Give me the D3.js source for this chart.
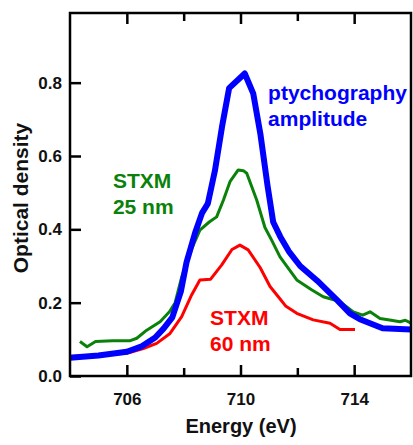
<!DOCTYPE html>
<html>
<head>
<meta charset="utf-8">
<script src="https://cdn.jsdelivr.net/npm/d3@7"></script>
<style>
  html, body { margin: 0; padding: 0; background: #fff; overflow: hidden; }
  svg { display: block; }
  svg text { font-family: "Liberation Sans", Arial, sans-serif; font-weight: bold; }
</style>
</head>
<body>
<div id="chart"></div>
<script>
// Energy (eV) / optical density
var ptychoEnergy = [704.0, 705.0, 706.0, 706.5, 707.0, 707.3, 707.6, 707.9, 708.1, 708.4, 708.65, 708.85, 709.1, 709.35, 709.6, 710.15, 710.45, 710.7, 710.95, 711.15, 711.4, 711.7, 712.1, 712.7, 713.4, 713.85, 714.2, 715.0, 716.0];
var ptychoOD     = [0.050, 0.056, 0.066, 0.080, 0.105, 0.130, 0.160, 0.230, 0.310, 0.390, 0.445, 0.470, 0.560, 0.680, 0.785, 0.825, 0.770, 0.660, 0.520, 0.420, 0.380, 0.340, 0.300, 0.260, 0.207, 0.171, 0.155, 0.130, 0.127];

var stxm25Energy = [704.35, 704.6, 704.9, 705.5, 706.1, 706.35, 706.7, 707.17, 707.5, 707.7, 707.93, 708.3, 708.57, 708.9, 709.16, 709.4, 709.63, 709.92, 710.1, 710.22, 710.57, 710.86, 711.1, 711.39, 711.98, 712.5, 712.91, 713.5, 713.97, 714.3, 714.56, 714.91, 715.3, 715.61, 715.8, 716.0];
var stxm25OD     = [0.094, 0.080, 0.094, 0.096, 0.096, 0.103, 0.125, 0.148, 0.175, 0.200, 0.270, 0.350, 0.398, 0.420, 0.434, 0.480, 0.530, 0.562, 0.560, 0.553, 0.480, 0.405, 0.370, 0.325, 0.262, 0.235, 0.216, 0.203, 0.175, 0.166, 0.175, 0.157, 0.152, 0.148, 0.152, 0.144];

var stxm60Energy = [704.0, 705.0, 706.0, 706.58, 707.05, 707.52, 707.93, 708.28, 708.57, 708.95, 709.34, 709.7, 709.98, 710.27, 710.69, 711.04, 711.33, 711.6, 711.98, 712.56, 713.15, 713.5, 714.03];
var stxm60OD     = [0.053, 0.057, 0.062, 0.075, 0.089, 0.116, 0.162, 0.221, 0.262, 0.264, 0.303, 0.345, 0.357, 0.344, 0.296, 0.244, 0.216, 0.190, 0.171, 0.153, 0.144, 0.127, 0.127];

var xMajorTicks = [706, 710, 714];
var xMinorTicks = [708, 712];
var yTicks = [0.0, 0.2, 0.4, 0.6, 0.8];

var width = 413, height = 445;
var margin = { top: 13, right: 2, bottom: 69, left: 70 };
var innerWidth = width - margin.left - margin.right;
var innerHeight = height - margin.top - margin.bottom;

var x = d3.scaleLinear().domain([704, 716]).range([0, innerWidth]);
var y = d3.scaleLinear().domain([0, 0.99]).range([innerHeight, 0]);

var svg = d3.select("#chart")
  .append("svg")
  .attr("width", width)
  .attr("height", height)
  .append("g")
  .attr("transform", `translate(${margin.left}, ${margin.top})`);

// Lines, drawn under the frame
function drawSeries(energy, od, color, w) {
  var line = d3.line()
    .x((d, i) => x(energy[i]))
    .y(d => y(d));
  svg.append("path")
    .datum(od)
    .attr("fill", "none")
    .attr("stroke", color)
    .attr("stroke-width", w)
    .attr("stroke-linejoin", "round")
    .attr("d", line);
}
drawSeries(stxm60Energy, stxm60OD, "#ff0000", 3);
drawSeries(stxm25Energy, stxm25OD, "#0a820a", 3);
drawSeries(ptychoEnergy, ptychoOD, "#0000ff", 6);

// Axes with ticks pointing inward
var xBottom = svg.append("g")
  .attr("transform", `translate(0, ${innerHeight})`)
  .call(d3.axisBottom(x).tickValues(xMajorTicks).tickSize(-11).tickPadding(17).tickFormat(d3.format("d")));
var xBottomMinor = svg.append("g")
  .attr("transform", `translate(0, ${innerHeight})`)
  .call(d3.axisBottom(x).tickValues(xMinorTicks).tickSize(-8).tickFormat(""));
var xTop = svg.append("g")
  .call(d3.axisTop(x).tickValues(xMajorTicks).tickSize(-11).tickFormat(""));
var xTopMinor = svg.append("g")
  .call(d3.axisTop(x).tickValues(xMinorTicks).tickSize(-8).tickFormat(""));
var yLeft = svg.append("g")
  .call(d3.axisLeft(y).tickValues(yTicks).tickSize(-11).tickPadding(8).tickFormat(d3.format(".1f")));

[xBottom, xBottomMinor, xTop, xTopMinor, yLeft].forEach(function (a) {
  a.select(".domain").remove();
  a.selectAll("line").attr("stroke", "#000").attr("stroke-width", 2.5);
  a.selectAll("text").attr("fill", "#111").style("font-size", "17px");
});

// Frame
svg.append("rect")
  .attr("width", innerWidth)
  .attr("height", innerHeight)
  .attr("fill", "none")
  .attr("stroke", "#000")
  .attr("stroke-width", 2.5);

// Axis titles
svg.append("text")
  .attr("x", 241 - margin.left)
  .attr("y", innerHeight + 57)
  .attr("text-anchor", "middle")
  .attr("fill", "#111")
  .style("font-size", "20px")
  .text("Energy (eV)");

svg.append("text")
  .attr("transform", "rotate(-90)")
  .attr("x", -(198 - margin.top))
  .attr("y", 28 - margin.left)
  .attr("text-anchor", "middle")
  .attr("fill", "#111")
  .style("font-size", "21px")
  .text("Optical density");

// Series labels
function label(lines, ex, ey, color) {
  var t = svg.append("text")
    .attr("x", x(ex))
    .attr("y", y(ey))
    .attr("fill", color)
    .style("font-size", "21px");
  lines.forEach(function (s, i) {
    t.append("tspan").attr("x", x(ex)).attr("dy", i === 0 ? 0 : 26).text(s);
  });
}
label(["ptychography", "amplitude"], 710.97, 0.753, "#0000ff");
label(["STXM", "25 nm"], 705.51, 0.513, "#0a820a");
label(["STXM", "60 nm"], 708.93, 0.139, "#ff0000");
</script>
</body>
</html>
